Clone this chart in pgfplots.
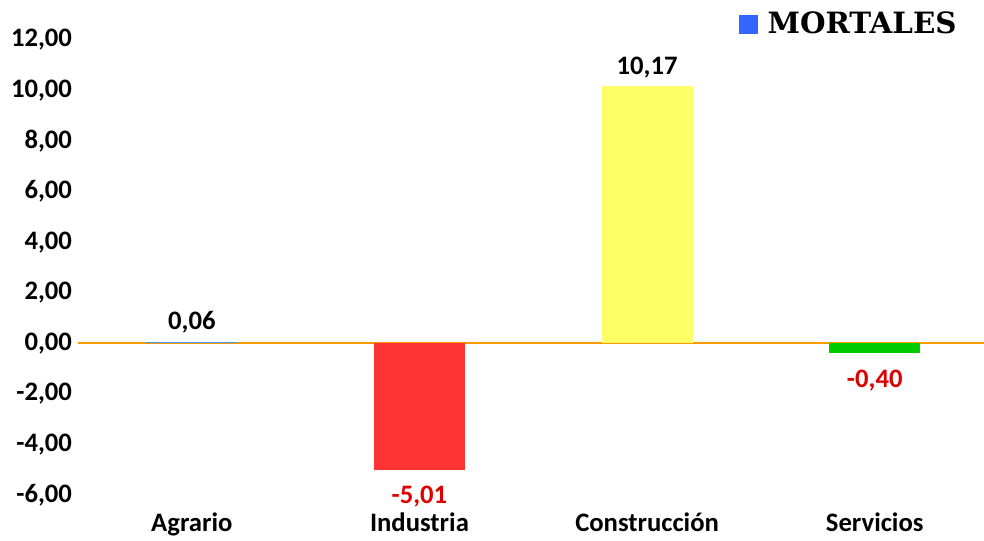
\documentclass[border=0pt]{standalone}
\usepackage{fontspec}
\setmainfont{Carlito}
\newfontfamily\legfont{DejaVu Serif}
\usepackage{pgfplots}
\pgfplotsset{compat=1.18}
\usetikzlibrary{calc}

\definecolor{legblue}{HTML}{3366FF}
\definecolor{agblue}{HTML}{3D9AEA}
\definecolor{inred}{HTML}{FF3333}
\definecolor{coyel}{HTML}{FFFF66}
\definecolor{segreen}{HTML}{00CC00}
\definecolor{zeroline}{HTML}{FF9900}
\definecolor{negred}{HTML}{DD0000}

\pgfplotsset{
    mbar/.style={ybar, bar width=0.4, bar shift=0pt, draw=none, forget plot,
        nodes near coords,
        every node near coord/.append style={font=\bfseries\fontsize{20}{22}\selectfont, inner sep=6pt}},
    neg/.style={every node near coord/.append style={text=negred, yshift=-6pt}},
}

\begin{document}
\begin{tikzpicture}
\begin{axis}[
    name=ax,
    scale only axis,
    width=679.5pt, height=341.25pt,
    xmin=-0.5, xmax=3.48,
    ymin=-6, ymax=12,
    ytick={-6,-4,...,12},
    xtick={0,1,2,3},
    xticklabels={Agrario,Industria,Construcción,Servicios},
    axis line style={draw=none},
    tick style={draw=none},
    /pgf/number format/assume math mode=true,
    /pgf/number format/.cd, fixed, fixed zerofill, precision=2, use comma,
    /pgfplots/.cd,
    tick label style={font=\bfseries\fontsize{20}{22}\selectfont},
    yticklabel style={xshift=-1pt},
    xticklabel style={yshift=-10pt},
    legend style={draw=none, at={(0.970,1.035)}, anchor=east,
        font=\legfont\bfseries\fontsize{22}{24}\selectfont, inner sep=0pt,
        nodes={inner sep=0pt}},
    legend image code/.code={
        \fill[legblue] (0pt,-6.75pt) rectangle (13.5pt,6.75pt);
        \path (21pt,0pt);},
]
\addlegendimage{legblue}
\addlegendentry{MORTALES}
% zero line
\addplot[color=zeroline, line width=1.5pt, mark=none, forget plot] coordinates {(-0.5,0) (3.48,0)};
\addplot[mbar, fill=agblue] coordinates {(0,0.06)};
\addplot[mbar, fill=inred, neg] coordinates {(1,-5.01)};
\addplot[mbar, fill=coyel] coordinates {(2,10.17)};
\addplot[mbar, fill=segreen, neg] coordinates {(3,-0.40)};
\end{axis}
\pgfresetboundingbox
\path ($(ax.south west)+(-58.5pt,-33.75pt)$) rectangle ($(ax.north east)+(0pt,30pt)$);
\end{tikzpicture}
\end{document}
